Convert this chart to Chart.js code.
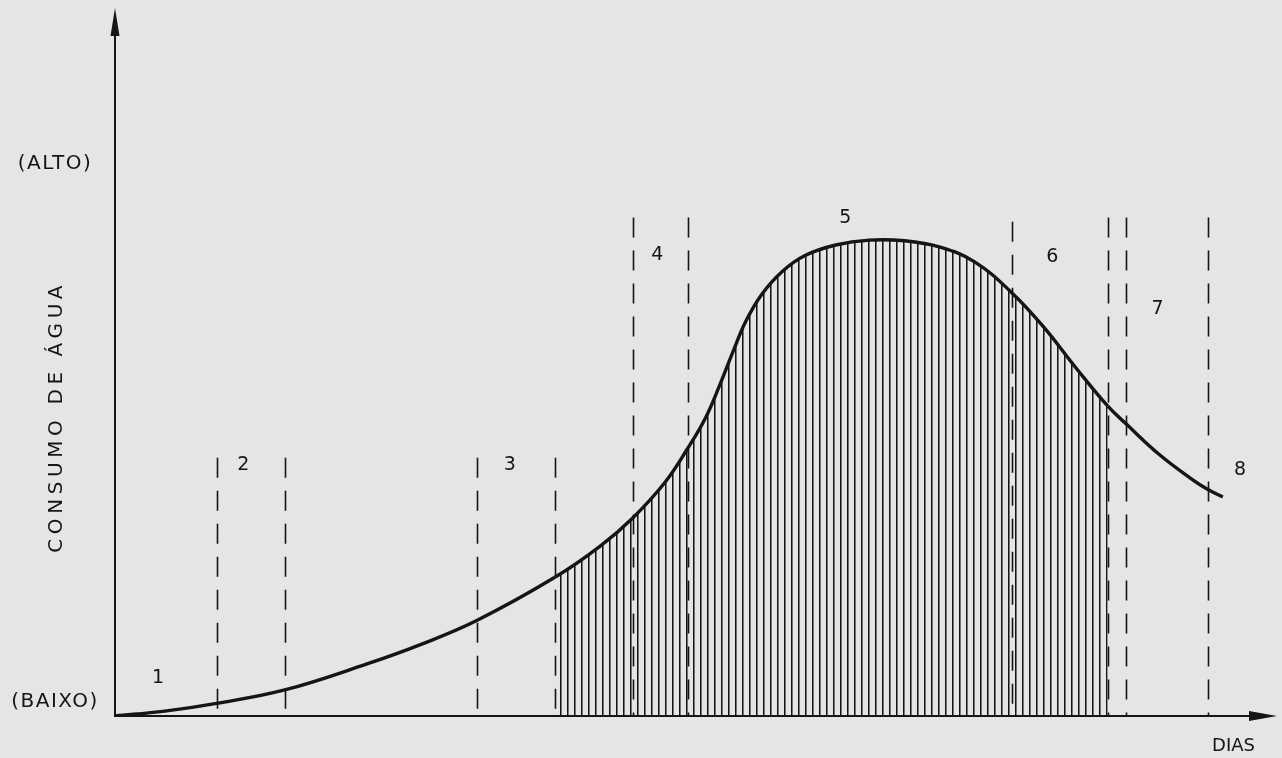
<!DOCTYPE html>
<html>
<head>
<meta charset="utf-8">
<script src="https://cdn.jsdelivr.net/npm/chart.js@4"></script>
<style>
	html, body { margin: 0; padding: 0; background: #e4e6e3; }
	#wrap { width: 1282px; height: 758px; }
</style>
</head>
<body>
<div id="wrap"><canvas id="mycanvas"></canvas></div>
<script>
// curva de consumo de agua (dias x consumo relativo, 0..100)
var dias = [0, 5.2, 10.6, 17.7, 26.3, 31.8, 37.8, 45.9, 50.6, 54.0, 57.4, 59.8, 61.6, 63.1, 64.5, 65.8, 67.5, 69.6, 72.0, 75.2, 78.7, 82.4, 86.1, 89.7, 93.6, 97.0, 100.3, 103.6, 105.5, 109.0, 112.2, 114.0, 115.6];
var consumo = [0, 0.7, 1.8, 3.7, 7.4, 10.1, 13.6, 19.7, 24.1, 28.1, 33.2, 38.1, 42.3, 47.0, 51.8, 56.0, 59.9, 63.1, 65.4, 66.9, 67.6, 67.5, 66.6, 64.5, 60.1, 55.1, 49.4, 44.0, 41.5, 37.1, 33.8, 32.2, 31.1];

// limites das fases (linhas tracejadas)
var limites = [10.6, 17.7, 37.8, 45.9, 54.0, 59.8, 93.6, 103.6, 105.5, 114.0];
var limitesTopo = [36.7, 36.7, 36.7, 36.7, 70.8, 70.8, 70.2, 70.8, 70.8, 70.8];

// rotulos das fases
var fases = ['1', '2', '3', '4', '5', '6', '7', '8'];
var fasesDia = [4.5, 13.4, 41.2, 56.6, 76.2, 97.8, 108.8, 117.4];
var fasesNivel = [5.4, 35.7, 35.7, 65.5, 70.7, 65.2, 57.8, 34.9];

// rotulos do eixo y
var nivelValores = [2, 78.5];
var nivelRotulos = ['(BAIXO)', '(ALTO)'];

var tituloY = 'CONSUMO DE ÁGUA';
var tituloX = 'DIAS';

// faixa hachurada: do 4o ao 8o limite
var hachuraIni = limites[3];
var hachuraFim = limites[7];

var canvas = document.getElementById('mycanvas');
var ctx = canvas.getContext('2d');

// padrao de linhas verticais
var tile = document.createElement('canvas');
tile.width = 7;
tile.height = 8;
var tctx = tile.getContext('2d');
tctx.fillStyle = '#151515';
tctx.fillRect(0, 0, 1, 8);
tctx.fillStyle = 'rgba(21,21,21,0.55)';
tctx.fillRect(1, 0, 1, 8);
var hachura = ctx.createPattern(tile, 'repeat');

var pontos = [];
for (var i in dias) {
	pontos.push({x: dias[i], y: consumo[i]});
}

var tinta = '#151515';
var fonte = '"DejaVu Sans", sans-serif';

var diagrama = {
	id: 'diagrama',
	beforeDatasetsDraw: function(chart) {
		var c = chart.ctx, sx = chart.scales.x, sy = chart.scales.y;
		c.save();
		c.strokeStyle = tinta;
		c.lineWidth = 1.6;
		c.setLineDash([20, 13]);
		for (var i = 0; i < limites.length; i++) {
			var px = Math.round(sx.getPixelForValue(limites[i])) + 0.5;
			c.beginPath();
			c.moveTo(px, sy.getPixelForValue(limitesTopo[i]));
			c.lineTo(px, sy.getPixelForValue(0));
			c.stroke();
		}
		c.restore();
	},
	afterDraw: function(chart) {
		var c = chart.ctx, sx = chart.scales.x, sy = chart.scales.y;
		var area = chart.chartArea;
		var x0 = sx.getPixelForValue(0), y0 = sy.getPixelForValue(0);
		c.save();
		c.strokeStyle = tinta;
		c.fillStyle = tinta;
		c.lineWidth = 2;

		// eixos
		c.beginPath();
		c.moveTo(x0, y0 + 1);
		c.lineTo(x0, area.top + 10);
		c.moveTo(x0 - 1, y0);
		c.lineTo(area.right - 4, y0);
		c.stroke();

		// setas
		c.beginPath();
		c.moveTo(x0, area.top - 4);
		c.lineTo(x0 + 4.5, area.top + 24);
		c.lineTo(x0 - 4.5, area.top + 24);
		c.closePath();
		c.fill();
		c.beginPath();
		c.moveTo(area.right + 12, y0);
		c.lineTo(area.right - 16, y0 - 5);
		c.lineTo(area.right - 16, y0 + 5);
		c.closePath();
		c.fill();

		// fases
		c.font = '19px ' + fonte;
		c.textAlign = 'center';
		c.textBaseline = 'middle';
		for (var i = 0; i < fases.length; i++) {
			c.fillText(fases[i], sx.getPixelForValue(fasesDia[i]), sy.getPixelForValue(fasesNivel[i]));
		}

		// alto / baixo
		c.font = '20px ' + fonte;
		c.letterSpacing = '1.5px';
		for (var j = 0; j < nivelRotulos.length; j++) {
			c.fillText(nivelRotulos[j], x0 - 60, sy.getPixelForValue(nivelValores[j]));
		}

		// titulo y
		c.save();
		c.translate(x0 - 58, sy.getPixelForValue(42.5));
		c.rotate(-Math.PI / 2);
		c.letterSpacing = '4.6px';
		c.fillText(tituloY, 0, 0);
		c.restore();

		// titulo x
		c.letterSpacing = '0px';
		c.font = '18px ' + fonte;
		c.textAlign = 'right';
		c.fillText(tituloX, area.right - 10, y0 + 30);
		c.restore();
	}
};

var grafico = new Chart(canvas, {
	type: 'line',
	data: {
		datasets: [
			{
				label: 'Consumo de água',
				data: pontos,
				borderColor: tinta,
				borderWidth: 3.4,
				pointRadius: 0,
				tension: 0.4,
				fill: 'origin',
				backgroundColor: 'rgba(0,0,0,0)',
				segment: {
					backgroundColor: function(s) {
						if (s.p0.parsed.x >= hachuraIni - 0.01 && s.p1.parsed.x <= hachuraFim + 0.01) {
							return hachura;
						}
						return 'rgba(0,0,0,0)';
					}
				}
			}
		]
	},
	options: {
		responsive: true,
		maintainAspectRatio: false,
		animation: false,
		layout: {
			padding: {left: 115, right: 17, top: 12, bottom: 42}
		},
		scales: {
			x: {type: 'linear', min: 0, max: 120, display: false},
			y: {type: 'linear', min: 0, max: 100, display: false}
		},
		plugins: {
			legend: {display: false},
			tooltip: {enabled: false}
		}
	},
	plugins: [diagrama]
});
</script>
</body>
</html>
